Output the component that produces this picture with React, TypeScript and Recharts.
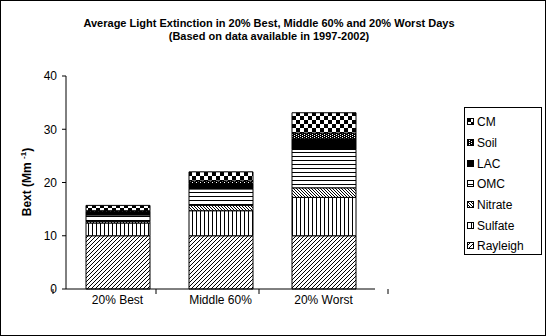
import React from 'react';
import { BarChart, Bar, XAxis, YAxis, Legend } from 'recharts';

const categories = ['20% Best', 'Middle 60%', '20% Worst'];
const rayleigh = [10, 10, 10];
const sulfate = [2.4, 4.7, 7.2];
const nitrate = [0.3, 1.0, 1.8];
const omc = [1.2, 3.1, 7.2];
const lac = [0.6, 1.0, 2.0];
const soil = [0.2, 0.5, 1.1];
const cm = [1.0, 1.7, 3.8];
const yTicks = [0, 10, 20, 30, 40];

const data = categories.map((name, i) => ({
  name,
  Rayleigh: rayleigh[i],
  Sulfate: sulfate[i],
  Nitrate: nitrate[i],
  OMC: omc[i],
  LAC: lac[i],
  Soil: soil[i],
  CM: cm[i],
}));

// stacking order, bottom first
const series = [
  { key: 'Rayleigh', fill: 'url(#pRayleigh)' },
  { key: 'Sulfate', fill: 'url(#pSulfate)' },
  { key: 'Nitrate', fill: 'url(#pNitrate)' },
  { key: 'OMC', fill: 'url(#pOMC)' },
  { key: 'LAC', fill: '#000' },
  { key: 'Soil', fill: 'url(#pSoil)' },
  { key: 'CM', fill: 'url(#pCM)' },
];

const FONT = 'Arial, "Liberation Sans", sans-serif';
const BAND = 129;

const Patterns = () => (
  <svg width="0" height="0" style={{ position: 'absolute' }}>
    <defs>
      <pattern id="pRayleigh" width="4" height="4" patternUnits="userSpaceOnUse">
        <rect width="4" height="4" fill="#fff" />
        <path d="M-1,1 L1,-1 M0,4 L4,0 M3,5 L5,3" stroke="#000" strokeWidth="1" />
      </pattern>
      <pattern id="pSulfate" width="4" height="4" patternUnits="userSpaceOnUse">
        <rect width="4" height="4" fill="#fff" />
        <rect x="0" y="0" width="1" height="4" fill="#000" />
      </pattern>
      <pattern id="pNitrate" width="3" height="3" patternUnits="userSpaceOnUse">
        <rect width="3" height="3" fill="#fff" />
        <path d="M-1,-1 L4,4 M-1,2 L1,4 M2,-1 L4,1" stroke="#000" strokeWidth="1" />
      </pattern>
      <pattern id="pOMC" width="4" height="4" patternUnits="userSpaceOnUse">
        <rect width="4" height="4" fill="#fff" />
        <rect x="0" y="0" width="4" height="1" fill="#000" />
      </pattern>
      <pattern id="pSoil" width="4" height="2" patternUnits="userSpaceOnUse">
        <rect width="4" height="2" fill="#000" />
        <rect x="0" y="0" width="1" height="1" fill="#fff" />
        <rect x="2" y="1" width="1" height="1" fill="#fff" />
      </pattern>
      <pattern id="pCM" width="8" height="8" patternUnits="userSpaceOnUse">
        <rect width="8" height="8" fill="#fff" />
        <rect x="0" y="0" width="4" height="4" fill="#000" />
        <rect x="4" y="4" width="4" height="4" fill="#000" />
      </pattern>
    </defs>
  </svg>
);

const CategoryTick = (props: any) => {
  const { x, y, payload, index } = props;
  const half = BAND / 2;
  return (
    <g>
      <line x1={x - half} y1={y} x2={x - half} y2={y + 5} stroke="#000" />
      {index === categories.length - 1 && (
        <line x1={x + half} y1={y} x2={x + half} y2={y + 5} stroke="#000" />
      )}
      <text x={x} y={y + 15} textAnchor="middle" fontSize={12} fontFamily={FONT} fill="#000">
        {payload.value}
      </text>
    </g>
  );
};

const LegendBox = () => (
  <div
    style={{
      border: '1px solid #000',
      width: 78,
      height: 148,
      boxSizing: 'border-box',
      padding: '4px 0 0 2px',
      background: '#fff',
    }}
  >
    {[...series].reverse().map((s) => (
      <div
        key={s.key}
        style={{ display: 'flex', alignItems: 'center', height: 20.7, fontFamily: FONT, fontSize: 12 }}
      >
        <svg width="8" height="8" style={{ marginRight: 2 }}>
          <rect x="0.5" y="0.5" width="6" height="6" fill={s.fill} stroke="#000" />
        </svg>
        <span>{s.key}</span>
      </div>
    ))}
  </div>
);

export default function App() {
  return (
    <div
      style={{
        position: 'absolute',
        left: 0,
        top: 0,
        width: 546,
        height: 336,
        boxSizing: 'border-box',
        border: '1px solid #000',
        background: '#fff',
        overflow: 'hidden',
      }}
    >
      <Patterns />
      <div
        style={{
          position: 'absolute',
          left: 0,
          top: 16,
          width: 536,
          textAlign: 'center',
          fontFamily: FONT,
          fontWeight: 'bold',
          fontSize: 11,
          lineHeight: '12.5px',
        }}
      >
        <div>Average Light Extinction in 20% Best, Middle 60% and 20% Worst Days</div>
        <div>(Based on data available in 1997-2002)</div>
      </div>
      <div style={{ position: 'absolute', left: -1, top: -1 }}>
        <BarChart
          width={546}
          height={336}
          data={data}
          margin={{ top: 76, right: 93, left: 26, bottom: 22 }}
          barSize={64}
        >
          <XAxis
            dataKey="name"
            axisLine={{ stroke: '#000' }}
            tickLine={false}
            tickSize={0}
            tickMargin={0}
            height={25}
            interval={0}
            tick={<CategoryTick />}
          />
          <YAxis
            width={40}
            domain={[0, 40]}
            ticks={yTicks}
            interval={0}
            axisLine={{ stroke: '#000' }}
            tickLine={{ stroke: '#000' }}
            tickSize={4}
            tickMargin={5}
            tick={{ fontSize: 12, fontFamily: FONT, fill: '#000' }}
            label={{
              content: () => (
                <text
                  transform="translate(31,182) rotate(-90)"
                  textAnchor="middle"
                  fontSize={12}
                  fontWeight="bold"
                  fontFamily={FONT}
                  fill="#000"
                >
                  Bext (Mm <tspan dy={-5} fontSize={8}>-1</tspan>
                  <tspan dy={5}>)</tspan>
                </text>
              ),
            }}
          />
          <Legend
            layout="vertical"
            align="right"
            verticalAlign="top"
            wrapperStyle={{ position: 'absolute', left: 464, top: 107, width: 78 }}
            content={() => <LegendBox />}
          />
          {series.map((s) => (
            <Bar
              key={s.key}
              dataKey={s.key}
              stackId="a"
              fill={s.fill}
              stroke="#000"
              strokeWidth={1}
              isAnimationActive={false}
            />
          ))}
        </BarChart>
      </div>
    </div>
  );
}
